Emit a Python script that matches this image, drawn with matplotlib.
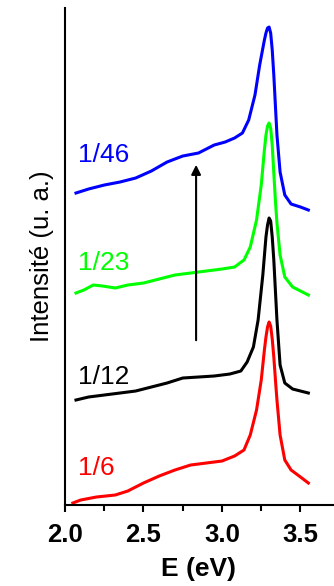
import matplotlib
matplotlib.use("Agg")
import matplotlib.pyplot as plt

# spectra (arbitrary intensity units, already offset)
x_red = [2.05, 2.10, 2.20, 2.32, 2.40, 2.50, 2.60, 2.70, 2.80, 2.90, 3.00, 3.08, 3.14, 3.18,
         3.22, 3.25, 3.27, 3.28, 3.29, 3.30, 3.31, 3.32, 3.33, 3.34, 3.35, 3.37, 3.40, 3.44, 3.50, 3.55]
y_red = [2, 5, 8, 10, 14, 22, 29, 35, 40, 42, 44, 49, 55, 70,
         95, 125, 155, 168, 178, 183, 179, 166, 148, 126, 105, 70, 45, 35, 28, 22]

x_black = [2.07, 2.15, 2.25, 2.35, 2.45, 2.55, 2.65, 2.75, 2.85, 2.95, 3.05, 3.12, 3.16,
           3.20, 3.23, 3.26, 3.28, 3.29, 3.30, 3.31, 3.32, 3.33, 3.34, 3.35, 3.37, 3.40, 3.45, 3.50, 3.55]
y_black = [105, 108, 110, 112, 114, 118, 122, 127, 128, 129, 131, 134, 143,
           158, 185, 230, 268, 280, 287, 284, 268, 245, 215, 185, 140, 122, 116, 114, 112]

x_green = [2.07, 2.12, 2.18, 2.24, 2.32, 2.40, 2.50, 2.60, 2.70, 2.80, 2.90, 3.00, 3.08, 3.14,
           3.18, 3.22, 3.25, 3.27, 3.28, 3.29, 3.30, 3.31, 3.32, 3.33, 3.34, 3.35, 3.37, 3.40,
           3.45, 3.50, 3.55]
y_green = [212, 215, 220, 219, 217, 220, 222, 226, 230, 232, 234, 236, 238, 245,
           258, 285, 320, 355, 370, 379, 382, 377, 360, 332, 305, 282, 250, 228,
           218, 214, 210]

x_blue = [2.07, 2.15, 2.25, 2.35, 2.45, 2.55, 2.65, 2.75, 2.85, 2.95, 3.02, 3.08, 3.13, 3.17,
          3.21, 3.24, 3.27, 3.28, 3.29, 3.30, 3.31, 3.32, 3.33, 3.34, 3.35, 3.37, 3.40,
          3.44, 3.50, 3.55]
y_blue = [312, 316, 320, 323, 327, 334, 343, 349, 352, 360, 363, 367, 372, 385,
          410, 440, 465, 472, 477, 478, 472, 455, 430, 400, 370, 333, 310,
          301, 298, 295]

labels = ["1/6", "1/12", "1/23", "1/46"]
label_y = [37, 128, 242, 350]
colors = ["#ff0000", "#000000", "#00ff00", "#0000ff"]

plt.rcParams['font.family'] = ['Liberation Sans', 'DejaVu Sans']

fig = plt.figure(figsize=(3.34, 5.86), dpi=100)
ax = fig.add_axes([0.1946, 0.1382, 0.8024, 0.8481])

curves = [(x_red, y_red), (x_black, y_black), (x_green, y_green), (x_blue, y_blue)]
for (xs, ys), c in zip(curves, colors):
    ax.plot(xs, ys, color=c, lw=2.2)

for lab, ly, c in zip(labels, label_y, colors):
    ax.text(2.08, ly, lab, color=c, fontsize=19, va='center', ha='left')

# arrow showing the trend
ax.annotate("", xy=(2.835, 343), xytext=(2.835, 162),
            arrowprops=dict(arrowstyle="-|>", color="black", lw=1.5, mutation_scale=14))

ax.set_xlim(2.0, 3.707)
ax.set_ylim(0, 497)
ax.set_xticks([2.0, 2.5, 3.0, 3.5])
ax.set_xticks([2.25, 2.75, 3.25], minor=True)
ax.set_yticks([])
for s in ["top", "right"]:
    ax.spines[s].set_visible(False)
for s in ["left", "bottom"]:
    ax.spines[s].set_linewidth(1.5)
ax.tick_params(axis='x', which='major', direction='out', length=5, width=1.5, labelsize=18.5, pad=8)
ax.tick_params(axis='x', which='minor', direction='out', length=4, width=1.5)
for t in ax.get_xticklabels():
    t.set_fontweight('bold')

ax.set_xlabel("E (eV)", fontsize=19, fontweight='bold', labelpad=7)
ax.set_ylabel("Intensité (u. a.)", fontsize=18.5, labelpad=8)

fig.savefig("out.png", dpi=100)
